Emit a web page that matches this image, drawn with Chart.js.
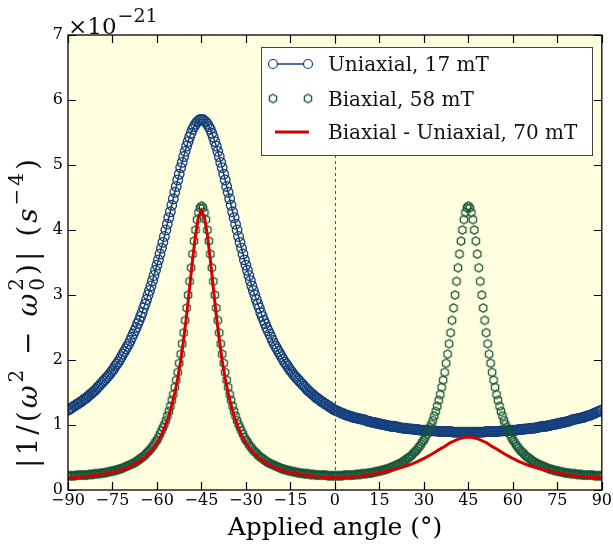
<!DOCTYPE html>
<html>
<head>
<meta charset="utf-8">
<script src="https://cdn.jsdelivr.net/npm/chart.js@4.4.1/dist/chart.umd.min.js"></script>
<style>
  html, body { margin: 0; padding: 0; background: #fff; }
</style>
</head>
<body>
<canvas id="chart" width="613" height="548"></canvas>
<script>
// applied angle in degrees, sampling of the marker series
const angles = [
  -90,-89.5,-89,-88.5,-88,-87.5,-87,-86.5,-86,-85.5,
  -85,-84.5,-84,-83.5,-83,-82.5,-82,-81.5,-81,-80.5,
  -80,-79.5,-79,-78.5,-78,-77.5,-77,-76.5,-76,-75.5,
  -75,-74.5,-74,-73.5,-73,-72.5,-72,-71.5,-71,-70.5,
  -70,-69.5,-69,-68.5,-68,-67.5,-67,-66.5,-66,-65.5,
  -65,-64.5,-64,-63.5,-63,-62.5,-62,-61.5,-61,-60.5,
  -60,-59.5,-59,-58.5,-58,-57.5,-57,-56.5,-56,-55.5,
  -55,-54.5,-54,-53.5,-53,-52.5,-52,-51.5,-51,-50.5,
  -50,-49.5,-49,-48.5,-48,-47.5,-47,-46.5,-46,-45.5,
  -45,-44.5,-44,-43.5,-43,-42.5,-42,-41.5,-41,-40.5,
  -40,-39.5,-39,-38.5,-38,-37.5,-37,-36.5,-36,-35.5,
  -35,-34.5,-34,-33.5,-33,-32.5,-32,-31.5,-31,-30.5,
  -30,-29.5,-29,-28.5,-28,-27.5,-27,-26.5,-26,-25.5,
  -25,-24.5,-24,-23.5,-23,-22.5,-22,-21.5,-21,-20.5,
  -20,-19.5,-19,-18.5,-18,-17.5,-17,-16.5,-16,-15.5,
  -15,-14.5,-14,-13.5,-13,-12.5,-12,-11.5,-11,-10.5,
  -10,-9.5,-9,-8.5,-8,-7.5,-7,-6.5,-6,-5.5,
  -5,-4.5,-4,-3.5,-3,-2.5,-2,-1.5,-1,-0.5,
  0,0.5,1,1.5,2,2.5,3,3.5,4,4.5,
  5,5.5,6,6.5,7,7.5,8,8.5,9,9.5,
  10,10.5,11,11.5,12,12.5,13,13.5,14,14.5,
  15,15.5,16,16.5,17,17.5,18,18.5,19,19.5,
  20,20.5,21,21.5,22,22.5,23,23.5,24,24.5,
  25,25.5,26,26.5,27,27.5,28,28.5,29,29.5,
  30,30.5,31,31.5,32,32.5,33,33.5,34,34.5,
  35,35.5,36,36.5,37,37.5,38,38.5,39,39.5,
  40,40.5,41,41.5,42,42.5,43,43.5,44,44.5,
  45,45.5,46,46.5,47,47.5,48,48.5,49,49.5,
  50,50.5,51,51.5,52,52.5,53,53.5,54,54.5,
  55,55.5,56,56.5,57,57.5,58,58.5,59,59.5,
  60,60.5,61,61.5,62,62.5,63,63.5,64,64.5,
  65,65.5,66,66.5,67,67.5,68,68.5,69,69.5,
  70,70.5,71,71.5,72,72.5,73,73.5,74,74.5,
  75,75.5,76,76.5,77,77.5,78,78.5,79,79.5,
  80,80.5,81,81.5,82,82.5,83,83.5,84,84.5,
  85,85.5,86,86.5,87,87.5,88,88.5,89,89.5,
  90
];

// |1/(w^2 - w0^2)| in units of 1e-21 s^-4
const uniaxial = [
  1.23,1.24,1.26,1.27,1.29,1.30,1.32,1.33,1.35,1.36,
  1.38,1.40,1.41,1.43,1.45,1.47,1.49,1.51,1.53,1.55,
  1.58,1.60,1.63,1.65,1.68,1.70,1.73,1.75,1.78,1.81,
  1.84,1.87,1.91,1.94,1.97,2.01,2.05,2.09,2.13,2.17,
  2.21,2.25,2.30,2.35,2.40,2.45,2.50,2.56,2.61,2.67,
  2.73,2.80,2.86,2.93,3.00,3.07,3.14,3.22,3.30,3.38,
  3.46,3.54,3.63,3.72,3.81,3.90,4.00,4.09,4.19,4.28,
  4.38,4.48,4.58,4.67,4.77,4.86,4.96,5.04,5.13,5.21,
  5.29,5.36,5.43,5.49,5.55,5.59,5.63,5.66,5.68,5.70,
  5.70,
  5.70,5.68,5.66,5.63,5.59,5.55,5.49,5.43,5.36,5.29,
  5.21,5.13,5.04,4.96,4.86,4.77,4.67,4.58,4.48,4.38,
  4.28,4.19,4.09,4.00,3.90,3.81,3.72,3.63,3.54,3.46,
  3.38,3.30,3.22,3.14,3.07,3.00,2.93,2.86,2.80,2.73,
  2.67,2.61,2.56,2.50,2.45,2.40,2.35,2.30,2.25,2.21,
  2.17,2.13,2.09,2.05,2.01,1.97,1.94,1.91,1.87,1.84,
  1.81,1.78,1.75,1.73,1.70,1.68,1.65,1.63,1.60,1.58,
  1.55,1.53,1.51,1.49,1.47,1.45,1.43,1.41,1.40,1.38,
  1.36,1.35,1.33,1.32,1.30,1.29,1.27,1.26,1.24,1.23,
  1.22,1.21,1.20,1.19,1.18,1.17,1.16,1.15,1.145,1.14,
  1.13,1.12,1.115,1.11,1.105,1.10,1.095,1.09,1.085,1.08,
  1.07,1.06,1.055,1.05,1.045,1.04,1.035,1.03,1.025,1.02,
  1.015,1.01,1.005,1.00,0.995,0.99,0.985,0.98,0.98,0.98,
  0.975,0.97,0.965,0.96,0.955,0.95,0.95,0.95,0.945,0.94,
  0.94,0.94,0.935,0.93,0.93,0.93,0.925,0.92,0.92,0.92,
  0.92,0.92,0.915,0.91,0.91,0.91,0.91,0.91,0.905,0.90,
  0.90,0.90,0.90,0.90,0.90,0.90,0.90,0.90,0.895,0.89,
  0.89,0.89,0.89,0.89,0.89,0.89,0.89,0.89,0.89,0.89,
  0.89,0.89,0.89,0.89,0.89,0.89,0.89,0.89,0.89,0.89,
  0.895,0.90,0.90,0.90,0.90,0.90,0.90,0.90,0.90,0.90,
  0.905,0.91,0.91,0.91,0.91,0.91,0.915,0.92,0.92,0.92,
  0.92,0.92,0.925,0.93,0.93,0.93,0.935,0.94,0.94,0.94,
  0.945,0.95,0.95,0.95,0.955,0.96,0.965,0.97,0.975,0.98,
  0.98,0.98,0.985,0.99,0.995,1.00,1.005,1.01,1.015,1.02,
  1.025,1.03,1.035,1.04,1.045,1.05,1.055,1.06,1.07,1.08,
  1.085,1.09,1.095,1.10,1.105,1.11,1.115,1.12,1.13,1.14,
  1.145,1.15,1.16,1.17,1.18,1.19,1.20,1.21,1.22,1.23
];

const biaxial = [
  0.22,0.22,0.22,0.22,0.22,0.22,0.23,0.23,0.23,0.23,
  0.23,0.23,0.23,0.23,0.24,0.24,0.24,0.24,0.25,0.25,
  0.25,0.25,0.26,0.26,0.26,0.27,0.27,0.28,0.28,0.29,
  0.29,0.30,0.30,0.31,0.32,0.32,0.33,0.34,0.35,0.36,
  0.37,0.38,0.39,0.40,0.41,0.42,0.44,0.45,0.47,0.49,
  0.50,0.52,0.54,0.57,0.59,0.61,0.64,0.67,0.70,0.74,
  0.77,0.81,0.86,0.91,0.96,1.01,1.07,1.14,1.21,1.29,
  1.38,1.47,1.58,1.69,1.81,1.95,2.09,2.25,2.42,2.61,
  2.80,3.00,3.21,3.42,3.63,3.83,4.00,4.16,4.27,4.34,
  4.37,
  4.34,4.27,4.16,4.00,3.83,3.63,3.42,3.21,3.00,2.80,
  2.61,2.42,2.25,2.09,1.95,1.81,1.69,1.58,1.47,1.38,
  1.29,1.21,1.14,1.07,1.01,0.96,0.91,0.86,0.81,0.77,
  0.74,0.70,0.67,0.64,0.61,0.59,0.57,0.54,0.52,0.50,
  0.49,0.47,0.45,0.44,0.42,0.41,0.40,0.39,0.38,0.37,
  0.36,0.35,0.34,0.33,0.32,0.32,0.31,0.30,0.30,0.29,
  0.29,0.28,0.28,0.27,0.27,0.26,0.26,0.26,0.25,0.25,
  0.25,0.25,0.24,0.24,0.24,0.24,0.23,0.23,0.23,0.23,
  0.23,0.23,0.23,0.23,0.22,0.22,0.22,0.22,0.22,0.22,
  0.22,0.22,0.22,0.22,0.22,0.23,0.23,0.23,0.23,
  0.23,0.23,0.23,0.23,0.24,0.24,0.24,0.24,0.25,0.25,
  0.25,0.25,0.26,0.26,0.26,0.27,0.27,0.28,0.28,0.29,
  0.29,0.30,0.30,0.31,0.32,0.32,0.33,0.34,0.35,0.36,
  0.37,0.38,0.39,0.40,0.41,0.42,0.44,0.45,0.47,0.49,
  0.50,0.52,0.54,0.57,0.59,0.61,0.64,0.67,0.70,0.74,
  0.77,0.81,0.86,0.91,0.96,1.01,1.07,1.14,1.21,1.29,
  1.38,1.47,1.58,1.69,1.81,1.95,2.09,2.25,2.42,2.61,
  2.80,3.00,3.21,3.42,3.63,3.83,4.00,4.16,4.27,4.34,
  4.37,
  4.34,4.27,4.16,4.00,3.83,3.63,3.42,3.21,3.00,2.80,
  2.61,2.42,2.25,2.09,1.95,1.81,1.69,1.58,1.47,1.38,
  1.29,1.21,1.14,1.07,1.01,0.96,0.91,0.86,0.81,0.77,
  0.74,0.70,0.67,0.64,0.61,0.59,0.57,0.54,0.52,0.50,
  0.49,0.47,0.45,0.44,0.42,0.41,0.40,0.39,0.38,0.37,
  0.36,0.35,0.34,0.33,0.32,0.32,0.31,0.30,0.30,0.29,
  0.29,0.28,0.28,0.27,0.27,0.26,0.26,0.26,0.25,0.25,
  0.25,0.25,0.24,0.24,0.24,0.24,0.23,0.23,0.23,0.23,
  0.23,0.23,0.23,0.23,0.22,0.22,0.22,0.22,0.22,0.22
];

// the difference curve is a plain line, 1 degree steps
const lineAngles = [
  -90,-89,-88,-87,-86,-85,-84,-83,-82,-81,
  -80,-79,-78,-77,-76,-75,-74,-73,-72,-71,
  -70,-69,-68,-67,-66,-65,-64,-63,-62,-61,
  -60,-59,-58,-57,-56,-55,-54,-53,-52,-51,
  -50,-49,-48,-47,-46,-45,-44,-43,-42,-41,
  -40,-39,-38,-37,-36,-35,-34,-33,-32,-31,
  -30,-29,-28,-27,-26,-25,-24,-23,-22,-21,
  -20,-19,-18,-17,-16,-15,-14,-13,-12,-11,
  -10,-9,-8,-7,-6,-5,-4,-3,-2,-1,
  0,1,2,3,4,5,6,7,8,9,
  10,11,12,13,14,15,16,17,18,19,
  20,21,22,23,24,25,26,27,28,29,
  30,31,32,33,34,35,36,37,38,39,
  40,41,42,43,44,45,46,47,48,49,
  50,51,52,53,54,55,56,57,58,59,
  60,61,62,63,64,65,66,67,68,69,
  70,71,72,73,74,75,76,77,78,79,
  80,81,82,83,84,85,86,87,88,89,
  90
];

const difference = [
  0.185,0.187,0.19,0.193,0.197,0.201,0.206,0.211,0.217,0.223,
  0.23,0.237,0.245,0.253,0.262,0.272,0.282,0.295,0.31,0.32,
  0.34,0.36,0.38,0.41,0.44,0.47,0.51,0.55,0.60,0.66,
  0.72,0.80,0.90,1.01,1.14,1.30,1.49,1.72,1.99,2.32,
  2.69,3.11,3.54,3.92,4.20,4.30,4.20,3.92,3.54,3.11,
  2.69,2.32,1.99,1.72,1.49,1.30,1.14,1.01,0.90,0.80,
  0.72,0.66,0.60,0.55,0.51,0.47,0.44,0.41,0.38,0.36,
  0.34,0.32,0.31,0.295,0.282,0.272,0.262,0.253,0.245,0.237,
  0.23,0.223,0.217,0.211,0.206,0.201,0.197,0.193,0.19,0.187,
  0.185,0.188,0.19,0.192,0.195,0.198,0.202,0.206,0.211,0.217,
  0.223,0.23,0.237,0.245,0.254,0.263,0.273,0.283,0.294,0.304,
  0.315,0.327,0.34,0.354,0.369,0.385,0.402,0.421,0.441,0.463,
  0.485,0.51,0.535,0.561,0.589,0.617,0.645,0.67,0.70,0.73,
  0.75,0.77,0.79,0.80,0.81,0.81,0.81,0.80,0.79,0.77,
  0.75,0.73,0.70,0.67,0.645,0.617,0.589,0.561,0.535,0.51,
  0.485,0.463,0.441,0.421,0.402,0.385,0.369,0.354,0.34,0.327,
  0.315,0.304,0.294,0.283,0.273,0.263,0.254,0.245,0.237,0.23,
  0.223,0.217,0.211,0.206,0.202,0.198,0.195,0.192,0.19,0.188,
  0.186
];

const seriesLabels = ['Uniaxial, 17 mT', 'Biaxial, 58 mT', 'Biaxial - Uniaxial, 70 mT'];
const xTicks = [-90, -75, -60, -45, -30, -15, 0, 15, 30, 45, 60, 75, 90];
const xTickLabels = ['−90', '−75', '−60', '−45', '−30', '−15', '0', '15', '30', '45', '60', '75', '90'];
const yTicks = [0, 1, 2, 3, 4, 5, 6, 7];

const BLUE = '#143f7c';
const GREEN = '#16553a';
const RED = '#d40000';
const FONT = 'DejaVu Serif';

Chart.defaults.font.family = FONT;
Chart.defaults.color = '#000';

function hexMarker(r, color) {
  const c = document.createElement('canvas');
  const s = Math.ceil(2 * r + 3);
  c.width = s; c.height = s;
  const g = c.getContext('2d');
  g.strokeStyle = color;
  g.lineWidth = 1.25;
  g.beginPath();
  for (let k = 0; k < 6; k++) {
    const a = Math.PI / 2 + k * Math.PI / 3;
    const px = s / 2 + r * Math.cos(a), py = s / 2 - r * Math.sin(a);
    if (k === 0) g.moveTo(px, py); else g.lineTo(px, py);
  }
  g.closePath();
  g.stroke();
  return c;
}
const hex = hexMarker(4.2, GREEN);

const pts = (xs, vals) => vals.map((v, i) => ({ x: xs[i], y: v }));

// y label pieces: text, italic, superscript / subscript
const yTitle = [
  { t: '|1/(' }, { t: 'ω', it: true }, { t: '2', sup: true },
  { t: ' − ' }, { t: 'ω', it: true }, { t: '0', sub: true, keep: true }, { t: '2', sup: true },
  { t: ')| (' }, { t: 's', it: true }, { t: '−4', sup: true }, { t: ')' }
];

function drawRich(ctx, parts, size) {
  const small = Math.round(size * 0.7);
  const fontOf = p => (p.it ? 'italic ' : '') + ((p.sup || p.sub) ? small : size) + 'px "' + FONT + '"';
  let total = 0;
  parts.forEach(p => { ctx.font = fontOf(p); if (!p.keep) total += ctx.measureText(p.t).width; });
  let cx = -total / 2;
  parts.forEach(p => {
    ctx.font = fontOf(p);
    const dy = p.sup ? -size * 0.42 : p.sub ? size * 0.3 : 0;
    ctx.fillText(p.t, cx, dy);
    if (!p.keep) cx += ctx.measureText(p.t).width;
  });
}

const decor = {
  id: 'decor',
  beforeDraw(chart) {
    const { ctx, chartArea: a } = chart;
    ctx.save();
    ctx.fillStyle = '#ffffe0';
    ctx.fillRect(a.left, a.top, a.right - a.left, a.bottom - a.top);
    ctx.restore();
  },
  afterDatasetsDraw(chart) {
    const { ctx, chartArea: a, scales: { x, y } } = chart;
    ctx.save();

    // dashed line at zero angle
    const x0 = Math.round(x.getPixelForValue(0)) + 0.5;
    ctx.strokeStyle = '#555';
    ctx.lineWidth = 1;
    ctx.setLineDash([3, 3]);
    ctx.beginPath();
    ctx.moveTo(x0, a.top);
    ctx.lineTo(x0, a.bottom);
    ctx.stroke();
    ctx.setLineDash([]);

    // frame + inward ticks on all four sides
    ctx.strokeStyle = '#000';
    ctx.lineWidth = 1.3;
    ctx.strokeRect(a.left, a.top, a.right - a.left, a.bottom - a.top);
    ctx.lineWidth = 1.2;
    ctx.beginPath();
    xTicks.forEach(v => {
      const px = Math.round(x.getPixelForValue(v)) + 0.5;
      ctx.moveTo(px, a.bottom); ctx.lineTo(px, a.bottom - 8);
      ctx.moveTo(px, a.top); ctx.lineTo(px, a.top + 8);
    });
    yTicks.forEach(v => {
      const py = Math.round(y.getPixelForValue(v)) + 0.5;
      ctx.moveTo(a.left, py); ctx.lineTo(a.left + 8, py);
      ctx.moveTo(a.right, py); ctx.lineTo(a.right - 8, py);
    });
    ctx.stroke();

    // legend
    const lx = 261, ly = 47, lw = 331, lh = 108;
    ctx.fillStyle = '#fff';
    ctx.fillRect(lx, ly, lw, lh);
    ctx.strokeStyle = '#444';
    ctx.lineWidth = 1;
    ctx.strokeRect(lx + 0.5, ly + 0.5, lw, lh);
    const rows = [64, 98.5, 132];
    const s0 = 273, s1 = 308;
    ctx.strokeStyle = BLUE;
    ctx.lineWidth = 1.5;
    ctx.beginPath(); ctx.moveTo(s0, rows[0]); ctx.lineTo(s1, rows[0]); ctx.stroke();
    ctx.lineWidth = 1.2;
    [s0, s1].forEach(sx => {
      ctx.fillStyle = '#fff';
      ctx.beginPath(); ctx.arc(sx, rows[0], 4.5, 0, Math.PI * 2); ctx.fill(); ctx.stroke();
      ctx.drawImage(hex, sx - hex.width / 2, rows[1] - hex.height / 2);
    });
    ctx.strokeStyle = RED;
    ctx.lineWidth = 3;
    ctx.beginPath(); ctx.moveTo(s0 + 2, rows[2]); ctx.lineTo(s1 + 1, rows[2]); ctx.stroke();
    ctx.fillStyle = '#111';
    ctx.font = '20px "' + FONT + '"';
    ctx.textBaseline = 'alphabetic';
    seriesLabels.forEach((t, i) => ctx.fillText(t, 328, rows[i] + 7));

    // exponent label
    ctx.font = '23px "' + FONT + '"';
    ctx.fillText('×10', 68, 34);
    const w = ctx.measureText('×10').width;
    ctx.font = '19px "' + FONT + '"';
    ctx.fillText('−21', 68 + w + 1, 22);

    // y axis title
    ctx.translate(30, 312);
    ctx.rotate(-Math.PI / 2);
    ctx.textBaseline = 'middle';
    if ('letterSpacing' in ctx) ctx.letterSpacing = '3px';
    drawRich(ctx, yTitle, 28);

    ctx.restore();
  }
};

new Chart(document.getElementById('chart').getContext('2d'), {
  type: 'line',
  data: {
    datasets: [
      {
        label: seriesLabels[2],
        data: pts(lineAngles, difference),
        borderColor: RED,
        borderWidth: 3,
        pointRadius: 0,
        order: 0,
        clip: 0
      },
      {
        label: seriesLabels[1],
        data: pts(angles, biaxial),
        showLine: false,
        pointStyle: hex,
        pointRadius: 4,
        order: 1,
        clip: 0
      },
      {
        label: seriesLabels[0],
        data: pts(angles, uniaxial),
        borderColor: BLUE,
        borderWidth: 1.5,
        pointStyle: 'circle',
        pointRadius: 4.8,
        pointBorderWidth: 1.3,
        pointBorderColor: BLUE,
        pointBackgroundColor: 'rgba(0,0,0,0)',
        order: 2,
        clip: 0
      }
    ]
  },
  options: {
    responsive: false,
    animation: false,
    events: [],
    layout: { padding: { top: 35, right: 11, left: 0, bottom: 0 } },
    plugins: { legend: { display: false }, tooltip: { enabled: false } },
    scales: {
      x: {
        type: 'linear',
        min: -90,
        max: 90,
        afterBuildTicks: s => { s.ticks = xTicks.map(v => ({ value: v })); },
        afterFit: s => { s.height = 58; },
        grid: { display: false, drawTicks: false },
        border: { display: false },
        ticks: {
          autoSkip: false,
          maxRotation: 0,
          padding: 1,
          font: { size: 16 },
          callback: v => xTickLabels[xTicks.indexOf(v)]
        },
        title: {
          display: true,
          text: 'Applied angle (°)',
          font: { size: 25 },
          padding: { top: 0, bottom: 5 }
        }
      },
      y: {
        min: 0,
        max: 7,
        afterBuildTicks: s => { s.ticks = yTicks.map(v => ({ value: v })); },
        afterFit: s => { s.width = 68; },
        grid: { display: false, drawTicks: false },
        border: { display: false },
        ticks: { padding: 5, font: { size: 16 }, callback: v => String(v) }
      }
    }
  },
  plugins: [decor]
});
</script>
</body>
</html>
